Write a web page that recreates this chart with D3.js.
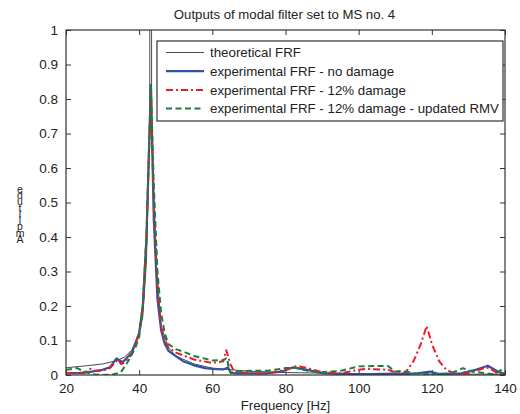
<!DOCTYPE html>
<html>
<head>
<meta charset="utf-8">
<script src="https://cdn.jsdelivr.net/npm/d3@7"></script>
<style>
  body { margin: 0; background: #fff; }
  svg { font-family: "Liberation Sans", Arial, sans-serif; }
</style>
</head>
<body>
<svg id="chart" width="520" height="414"></svg>
<script>
// --- data ---
const xTicks = [20, 40, 60, 80, 100, 120, 140];
const yTicks = [0, 0.1, 0.2, 0.3, 0.4, 0.5, 0.6, 0.7, 0.8, 0.9, 1];

const theoretical = [
  [20, 0.021], [25, 0.026], [30, 0.032], [34, 0.042], [36, 0.052], [38, 0.072], [40, 0.118],
  [41, 0.17], [42, 0.33], [42.9, 0.75], [43.15, 20], [43.4, 0.75], [44.5, 0.35], [46, 0.14],
  [48, 0.08], [50, 0.055], [55, 0.032], [60, 0.02], [70, 0.011], [80, 0.007], [100, 0.004],
  [120, 0.003], [140, 0.002]
];
const noDamage = [
  [20, 0.005], [24, 0.006], [27, 0.01], [30, 0.015], [32, 0.022], [33.8, 0.048], [35.5, 0.037],
  [38, 0.065], [40, 0.122], [41, 0.2], [42, 0.4], [43.2, 0.84], [44, 0.45], [45, 0.22],
  [46, 0.13], [47, 0.09], [48, 0.07], [50, 0.055], [52, 0.04], [55, 0.028], [58, 0.02],
  [60, 0.018], [63, 0.016], [64.3, 0.022], [65, 0.008], [66, 0.005], [70, 0.005], [75, 0.005],
  [79, 0.01], [82, 0.022], [86, 0.015], [90, 0.005], [95, 0.003], [100, 0.002], [110, 0.004],
  [113, 0.003], [116, 0.005], [119.5, 0.01], [122, 0.003], [128, 0.005], [132, 0.015],
  [135.3, 0.027], [138, 0.01], [140, 0.003]
];
const damage12 = [
  [20, 0.005], [25, 0.005], [26.5, 0.018], [28, 0.012], [30, 0.012], [32, 0.02], [34.2, 0.045],
  [35, 0.032], [36, 0.036], [38, 0.06], [40, 0.12], [41, 0.2], [42, 0.4], [43.2, 0.83],
  [44, 0.5], [45, 0.25], [46, 0.14], [47, 0.1], [48, 0.08], [50, 0.065], [55, 0.045],
  [60, 0.035], [63, 0.04], [63.8, 0.072], [65, 0.03], [66, 0.01], [70, 0.005], [75, 0.004],
  [80, 0.015], [83, 0.026], [86, 0.02], [90, 0.008], [95, 0.005], [100, 0.015], [102, 0.018],
  [108, 0.015], [110, 0.008], [112, 0.005], [113, 0.01], [115, 0.04], [117, 0.09],
  [118.6, 0.142], [120, 0.09], [122, 0.04], [124, 0.015], [126, 0.005], [128, 0.002],
  [130, 0.005], [132, 0.012], [135, 0.022], [137, 0.012], [138, 0.003], [140, 0.005]
];
const damage12Rmv = [
  [20, 0.015], [23, 0.02], [25, 0.01], [27, 0.002], [30, 0.0], [33, 0.002], [35, 0.008],
  [37, 0.04], [39, 0.08], [40, 0.11], [41, 0.2], [42, 0.4], [43.2, 0.84], [44, 0.55],
  [45, 0.3], [46, 0.18], [47, 0.12], [48, 0.09], [50, 0.075], [52, 0.068], [55, 0.055],
  [60, 0.042], [63, 0.043], [64, 0.05], [64.5, 0.02], [65, 0.005], [66, 0.01], [70, 0.012],
  [75, 0.012], [80, 0.02], [83, 0.02], [86, 0.012], [90, 0.008], [95, 0.012], [100, 0.025],
  [104, 0.026], [108, 0.026], [110, 0.01], [112, 0.012], [115, 0.005], [118, 0.002],
  [120, 0.002], [125, 0.004], [128.5, 0.02], [131, 0.01], [135, 0.005], [137, 0.002],
  [139, 0.015], [140, 0.02]
];

const seriesNames = [
  "theoretical FRF",
  "experimental FRF - no damage",
  "experimental FRF - 12% damage",
  "experimental FRF - 12% damage - updated RMV"
];
const seriesData = [theoretical, noDamage, damage12, damage12Rmv];
const seriesStyle = [
  { color: "#4a4a4a", width: 1, dash: null },
  { color: "#2f52a6", width: 2.2, dash: null },
  { color: "#ec1c24", width: 2, dash: "7,3,2,3" },
  { color: "#1a7f3c", width: 2, dash: "6,3.5" }
];

const W = 520, H = 414;
const m = { top: 30, right: 15, bottom: 39, left: 66 };
const iW = W - m.left - m.right;
const iH = H - m.top - m.bottom;

const svg = d3.select("#chart");
const g = svg.append("g").attr("transform", `translate(${m.left},${m.top})`);

const x = d3.scaleLinear().domain([20, 140]).range([0, iW]);
const y = d3.scaleLinear().domain([0, 1]).range([iH, 0]);

svg.append("defs").append("clipPath").attr("id", "clip")
  .append("rect").attr("width", iW).attr("height", iH);

// Title
svg.append("text")
  .attr("x", m.left + iW / 2 - 1).attr("y", 19)
  .attr("text-anchor", "middle").style("font-size", "13.2px").style("fill", "#222")
  .text("Outputs of modal filter set to MS no. 4");

// Axes (ticks pointing inward, matlab box style)
const styleAxis = ax => {
  ax.select(".domain").remove();
  ax.selectAll(".tick line").attr("stroke", "#333");
  ax.selectAll(".tick text").style("font-size", "13.5px").style("fill", "#222")
    .style("font-family", "'Liberation Sans', Arial, sans-serif");
};
g.append("g").attr("transform", `translate(0,${iH})`)
  .call(d3.axisBottom(x).tickValues(xTicks).tickSizeInner(-5).tickSizeOuter(0).tickPadding(8))
  .call(styleAxis);
g.append("g")
  .call(d3.axisLeft(y).tickValues(yTicks).tickFormat(d3.format("~g")).tickSizeInner(-5).tickSizeOuter(0).tickPadding(8))
  .call(styleAxis);
g.append("g")
  .call(d3.axisTop(x).tickValues(xTicks).tickSizeInner(-5).tickSizeOuter(0).tickFormat(""))
  .call(styleAxis);
g.append("g").attr("transform", `translate(${iW},0)`)
  .call(d3.axisRight(y).tickValues(yTicks).tickSizeInner(-5).tickSizeOuter(0).tickFormat(""))
  .call(styleAxis);

// Lines
const line = d3.line().x(d => x(d[0])).y(d => y(d[1]));
const lines = g.append("g").attr("clip-path", "url(#clip)");
seriesData.forEach((s, i) => {
  const st = seriesStyle[i];
  lines.append("path").datum(s)
    .attr("fill", "none").attr("stroke", st.color).attr("stroke-width", st.width)
    .attr("stroke-dasharray", st.dash).attr("stroke-linejoin", "round")
    .attr("d", line);
});

// Box
g.append("rect").attr("width", iW).attr("height", iH)
  .attr("fill", "none").attr("stroke", "#333").attr("stroke-width", 1.2);

// Legend
const lg = svg.append("g").attr("transform", "translate(157,41)");
lg.append("rect").attr("width", 346).attr("height", 80)
  .attr("fill", "#fff").attr("stroke", "#333").attr("stroke-width", 1.2);
seriesNames.forEach((n, i) => {
  const st = seriesStyle[i];
  const yy = 11.5 + i * 18.7;
  lg.append("line").attr("x1", 9).attr("x2", 47).attr("y1", yy).attr("y2", yy)
    .attr("stroke", st.color).attr("stroke-width", st.width).attr("stroke-dasharray", st.dash);
  lg.append("text").attr("x", 53).attr("y", yy + 4.6)
    .style("font-size", "13.3px").style("fill", "#222").text(n);
});

// Axis labels
svg.append("text")
  .attr("x", m.left + iW / 2).attr("y", 410)
  .attr("text-anchor", "middle").style("font-size", "13.2px").style("fill", "#222")
  .text("Frequency [Hz]");

// y label stacked letters (bottom-up), as in the source figure
const yLab = "Amplitude".split("");
yLab.forEach((c, i) => {
  svg.append("text")
    .attr("x", 20).attr("y", 243 - i * 6.3)
    .attr("text-anchor", "middle").style("font-size", "10.5px").style("fill", "#222")
    .text(c);
});
</script>
</body>
</html>
